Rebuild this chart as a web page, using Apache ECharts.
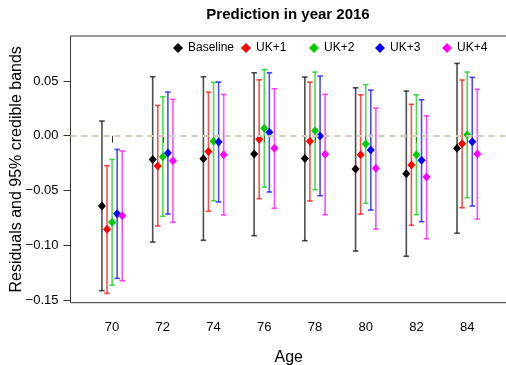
<!DOCTYPE html>
<html>
<head>
<meta charset="utf-8">
<script src="https://cdn.jsdelivr.net/npm/echarts@6/dist/echarts.min.js"></script>
<style>
html,body{margin:0;padding:0;background:#fff;}
#chart{width:506px;height:365px;}
</style>
</head>
<body>
<div id="chart"></div>
<script>
var ages = [70, 72, 74, 76, 78, 80, 82, 84];
var seriesNames = ['Baseline', 'UK+1', 'UK+2', 'UK+3', 'UK+4'];
var xTicks = [70, 72, 74, 76, 78, 80, 82, 84];
var yTicks = [-0.15, -0.10, -0.05, 0.00, 0.05];

var baselineMid = [-0.0642, -0.0216, -0.0210, -0.0167, -0.0207, -0.0304, -0.0347, -0.0115];
var baselineLo  = [-0.1415, -0.0971, -0.0955, -0.0913, -0.0959, -0.1053, -0.1101, -0.0891];
var baselineHi  = [0.0134, 0.0539, 0.0539, 0.0575, 0.0536, 0.0438, 0.0408, 0.0661];

var uk1Mid = [-0.0855, -0.0277, -0.0143, -0.0033, -0.0051, -0.0173, -0.0268, -0.0073];
var uk1Lo  = [-0.1440, -0.0825, -0.0690, -0.0575, -0.0596, -0.0715, -0.0818, -0.0658];
var uk1Hi  = [-0.0274, 0.0277, 0.0399, 0.0511, 0.0490, 0.0374, 0.0287, 0.0509];

var uk2Mid = [-0.0791, -0.0192, -0.0051, 0.0068, 0.0046, -0.0076, -0.0173, 0.0009];
var uk2Lo  = [-0.1364, -0.0736, -0.0594, -0.0471, -0.0493, -0.0617, -0.0721, -0.0566];
var uk2Hi  = [-0.0216, 0.0356, 0.0488, 0.0603, 0.0582, 0.0466, 0.0374, 0.0582];

var uk3Mid = [-0.0712, -0.0158, -0.0058, 0.0031, -0.0003, -0.0131, -0.0225, -0.0055];
var uk3Lo  = [-0.1303, -0.0715, -0.0605, -0.0514, -0.0548, -0.0679, -0.0785, -0.0642];
var uk3Hi  = [-0.0125, 0.0399, 0.0490, 0.0575, 0.0545, 0.0417, 0.0329, 0.0533];

var uk4Mid = [-0.0730, -0.0228, -0.0173, -0.0115, -0.0170, -0.0298, -0.0377, -0.0167];
var uk4Lo  = [-0.1324, -0.0791, -0.0724, -0.0663, -0.0721, -0.0852, -0.0941, -0.0761];
var uk4Hi  = [-0.0140, 0.0332, 0.0378, 0.0429, 0.0378, 0.0253, 0.0183, 0.0424];

var groups = [
  {mid: baselineMid, lo: baselineLo, hi: baselineHi},
  {mid: uk1Mid, lo: uk1Lo, hi: uk1Hi},
  {mid: uk2Mid, lo: uk2Lo, hi: uk2Hi},
  {mid: uk3Mid, lo: uk3Lo, hi: uk3Hi},
  {mid: uk4Mid, lo: uk4Lo, hi: uk4Hi}
];
var colors = ['#000000', '#FF0000', '#00CD00', '#0000FF', '#FF00FF'];
var dodge = 0.2;
var FONT = "'Liberation Sans', Arial, sans-serif";

function fmtY(v) {
  var s = Math.abs(v).toFixed(2);
  return (v < -1e-9 ? '\u2212' : '') + s;
}

var series = [];
// zero reference line
series.push({
  type: 'line',
  data: [],
  silent: true,
  z: 1,
  markLine: {
    silent: true,
    symbol: 'none',
    label: {show: false},
    lineStyle: {color: '#D6CAB6', type: [6, 5], width: 2},
    data: [{yAxis: 0}]
  }
});

groups.forEach(function (g, gi) {
  var off = (gi - 2) * dodge;
  var barData = ages.map(function (a, i) { return [a + off, g.lo[i], g.hi[i]]; });
  series.push({
    name: seriesNames[gi],
    type: 'custom',
    z: 2,
    silent: true,
    data: barData,
    encode: {x: 0, y: [1, 2]},
    renderItem: function (params, api) {
      var x = api.value(0);
      var pLo = api.coord([x, api.value(1)]);
      var pHi = api.coord([x, api.value(2)]);
      var hw = 2.8;
      var style = {stroke: colors[gi], lineWidth: 1.6, opacity: 0.7};
      return {
        type: 'group',
        children: [
          {type: 'line', shape: {x1: pLo[0], y1: pLo[1], x2: pHi[0], y2: pHi[1]}, style: style},
          {type: 'line', shape: {x1: pLo[0] - hw, y1: pLo[1], x2: pLo[0] + hw, y2: pLo[1]}, style: style},
          {type: 'line', shape: {x1: pHi[0] - hw, y1: pHi[1], x2: pHi[0] + hw, y2: pHi[1]}, style: style}
        ]
      };
    }
  });
  series.push({
    name: seriesNames[gi],
    type: 'scatter',
    z: 3,
    symbol: 'diamond',
    symbolSize: [8, 9],
    itemStyle: {color: colors[gi], opacity: 1},
    data: ages.map(function (a, i) { return [a + off, g.mid[i]]; })
  });
});

var legendLefts = [173, 241, 309, 375, 442];
var legends = seriesNames.map(function (n, i) {
  return {
    data: [{name: n, icon: 'diamond', itemStyle: {color: colors[i]}}],
    left: legendLefts[i],
    top: 42,
    itemWidth: 10,
    itemHeight: 10,
    padding: 0,
    selectedMode: false,
    textStyle: {fontFamily: FONT, fontSize: 12, color: '#000'}
  };
});

var option = {
  animation: false,
  backgroundColor: '#fff',
  title: {
    text: 'Prediction in year 2016',
    left: 288,
    textAlign: 'center',
    top: 7,
    padding: 0,
    textStyle: {fontFamily: FONT, fontSize: 15, fontWeight: 'bold', color: '#000'}
  },
  legend: legends,
  grid: {
    left: 70.5, top: 36, right: -1, bottom: 62.3,
    containLabel: false,
    outerBoundsMode: 'none',
    show: true, borderColor: '#333', borderWidth: 1, backgroundColor: 'transparent'
  },
  xAxis: {
    type: 'value',
    min: 68.36,
    max: 85.57,
    name: 'Age',
    nameLocation: 'middle',
    nameGap: 47,
    nameMoveOverlap: false,
    nameTextStyle: {fontFamily: FONT, fontSize: 16, color: '#000'},
    axisLine: {show: false},
    splitLine: {show: false},
    axisTick: {show: true, length: 7, lineStyle: {color: '#333'}, customValues: xTicks},
    axisLabel: {margin: 18, fontFamily: FONT, fontSize: 13, color: '#000', customValues: xTicks,
      formatter: function (v) { return String(v); }}
  },
  yAxis: {
    type: 'value',
    min: -0.1525,
    max: 0.0911,
    name: 'Residuals and 95% credible bands',
    nameLocation: 'middle',
    nameGap: 46,
    nameMoveOverlap: false,
    nameTextStyle: {fontFamily: FONT, fontSize: 16, color: '#000'},
    axisLine: {show: false},
    splitLine: {show: false},
    axisTick: {show: true, length: 7, lineStyle: {color: '#333'}, customValues: yTicks},
    axisLabel: {margin: 12, fontFamily: FONT, fontSize: 13, color: '#000', customValues: yTicks,
      formatter: function (v) { return fmtY(v); }}
  },
  series: series
};

var chart = echarts.init(document.getElementById('chart'), null, {renderer: 'canvas'});
chart.setOption(option);
</script>
</body>
</html>
